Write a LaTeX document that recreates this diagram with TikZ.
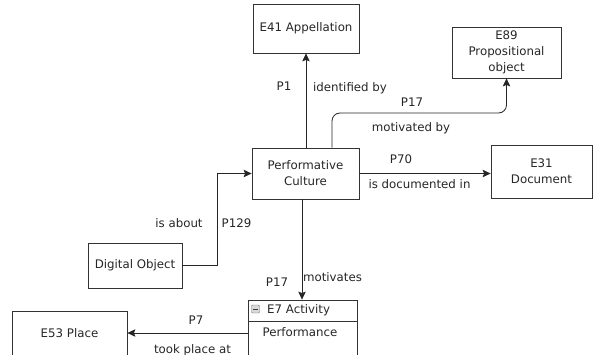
\documentclass[tikz,border=0pt]{standalone}
\usepackage{fontspec}
\setmainfont{DejaVu Sans}
\usetikzlibrary{arrows.meta}
\begin{document}
\begin{tikzpicture}[x=1pt,y=-1pt,
  font=\fontsize{11.8}{16}\selectfont,
  every node/.style={text=black!85},
  cls/.style={draw=black!80, line width=0.8pt, minimum width=#1, align=center, inner sep=0pt},
  cls/.default=100,
  lbl/.style={inner sep=0pt, text height=8.6pt, text depth=2.4pt},
  conn/.style={draw=black!85, line width=0.8pt},
  arr/.style={conn, -{Stealth[length=8pt,width=7.5pt,inset=1.5pt]}}]
  \useasboundingbox (0,0) rectangle (593,355);
  \clip (0,0) rectangle (593,355);

  % classes
  \node[cls=106, minimum height=49] (app) at (306,28.5) {E41 Appellation};
  \node[cls=109, minimum height=51] (prop) at (506.5,52.5) {E89\\Propositional\\object};
  \node[cls=107, minimum height=51] (pc) at (305.5,173.5) {Performative\\Culture};
  \node[cls=101, minimum height=53] (doc) at (541.5,171.5) {E31\\Document};
  \node[cls=94, minimum height=45] (dig) at (135,265.5) {Digital Object};
  \node[cls=115, minimum height=44] (place) at (69.5,333) {E53 Place};

  % activity box with collapsible header
  \node[cls=109, minimum height=72] (act) at (302.5,336) {};
  \draw[black!80, line width=0.8pt] (act.north west |- 0,321) -- (act.north east |- 0,321);
  \node[draw=black!55, fill=black!15, rounded corners=1pt, minimum size=8pt, inner sep=0pt] (tog) at (255.5,309) {};
  \draw[black!75, line width=1pt] ([xshift=-2.2pt]tog.center) -- ([xshift=2.2pt]tog.center);
  \node[lbl, anchor=west] (actname) at (267,310) {E7 Activity};
  \node[lbl] (perf) at (300,333) {Performance};

  % bend points
  \coordinate (kink) at (332,113);
  \coordinate (dk) at (217,173.5);

  % connectors
  \draw[arr] ([xshift=0.5pt]pc.north) -- ([xshift=0.5pt]pc.north |- app.south);
  \draw[arr, rounded corners=8pt] (pc.north -| kink) -- (kink) -| (prop.south);
  \draw[arr] (pc.east) -- (pc.east -| doc.west);
  \draw[arr] (dig.east) -| (dk) -- (pc.west);
  \draw[arr] ([xshift=-3.5pt]pc.south) -- ([xshift=-3.5pt]pc.south |- act.north);
  \draw[arr] (act.west |- place.east) -- (place.east);

  % connector labels
  \node[lbl] (lp1) at (284,87) {P1};
  \node[lbl] (lidby) at (350,88) {identified by};
  \node[lbl] (lp17a) at (412,103) {P17};
  \node[lbl] (lmotby) at (411,128) {motivated by};
  \node[lbl] (lp70) at (401,160) {P70};
  \node[lbl] (ldoc) at (419.5,185) {is documented in};
  \node[lbl] (labout) at (179,224) {is about};
  \node[lbl] (lp129) at (236.5,224) {P129};
  \node[lbl] (lp17b) at (277,283) {P17};
  \node[lbl] (lmot) at (332.5,278) {motivates};
  \node[lbl] (lp7) at (196,321) {P7};
  \node[lbl] (ltook) at (192.5,350) {took place at};
\end{tikzpicture}
\end{document}
